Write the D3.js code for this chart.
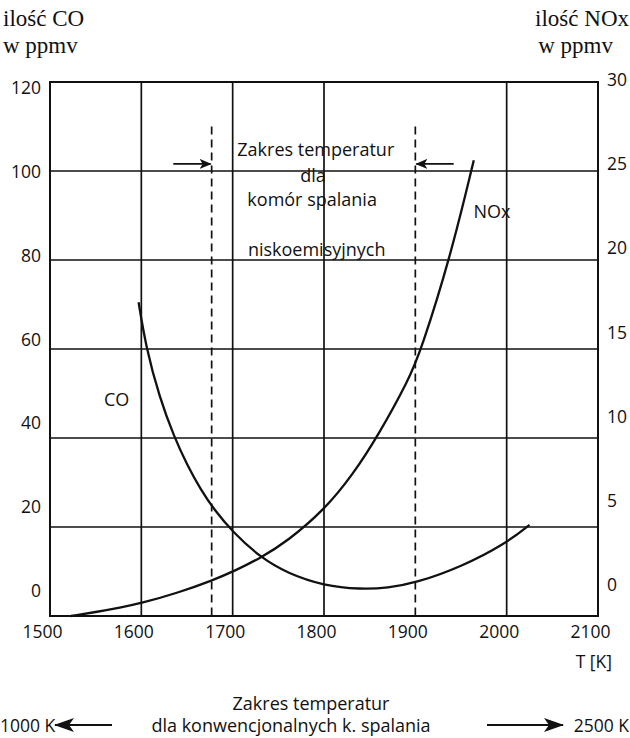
<!DOCTYPE html>
<html><head><meta charset="utf-8">
<script src="https://cdn.jsdelivr.net/npm/d3@7/dist/d3.min.js"></script>
<style>
html,body{margin:0;padding:0;background:#fff;}
svg{display:block;}
</style></head>
<body>
<svg id="chart" width="630" height="738"></svg>
<script>
// ---------- data ----------
const xTicks = [1500, 1600, 1700, 1800, 1900, 2000, 2100];
const xGrid = [1600, 1700, 1800, 2000];
const coTicks = [0, 20, 40, 60, 80, 100, 120];
const noxTicks = [0, 5, 10, 15, 20, 25, 30];
const coGrid = [20, 40, 60, 80, 100];
// CO curve: T in K, CO in ppmv
const coT =   [1597, 1605, 1620, 1636, 1650, 1665, 1680, 1700, 1730, 1760, 1800, 1840, 1870, 1900, 1950, 2000, 2025];
const coVal = [70.5, 60.5, 49.0, 40.2, 34.0, 28.4, 23.8, 18.9, 13.2, 9.6, 6.8, 6.0, 6.3, 7.4, 11.0, 16.4, 20.5];
// NOx curve: T in K, NOx in ppmv
const noxT =   [1523, 1550, 1577, 1600, 1640, 1678, 1703, 1730, 1760, 1801, 1831, 1860, 1893, 1906, 1938, 1964];
const noxVal = [0, 0.22, 0.47, 0.72, 1.3, 2.0, 2.55, 3.25, 4.2, 6.0, 7.9, 10.2, 13.3, 14.9, 20.1, 25.6];
// low-emission combustor temperature range (dashed lines)
const lowRange = [1677, 1900];
const lowRangeTop = 110;

// ---------- layout ----------
const svg = d3.select("#chart");
const x = d3.scaleLinear([1500, 2100], [50, 598]);
const yCO = d3.scaleLinear([0, 120], [616, 82]);
const yNOx = d3.scaleLinear([0, 30], [616, 82]);
// tick labels of the original sit on their own, slightly compressed scales
const yLabCO = d3.scaleLinear([0, 120], [591, 88]);
const yLabNOx = d3.scaleLinear([0, 30], [585, 80]);

const ink = "#111";
const sans = "'Open Sans', 'Noto Sans', sans-serif";
const serif = "'Liberation Serif', 'DejaVu Serif', serif";

const defs = svg.append("defs");
defs.append("marker")
  .attr("id", "ah").attr("viewBox", "0 0 12 10").attr("refX", 11).attr("refY", 5)
  .attr("markerWidth", 12).attr("markerHeight", 10).attr("markerUnits", "userSpaceOnUse")
  .attr("orient", "auto")
  .append("path").attr("d", "M0,0 L12,5 L0,10 L3,5 Z").attr("fill", ink);
defs.append("marker")
  .attr("id", "ahBig").attr("viewBox", "0 0 20 14").attr("refX", 19).attr("refY", 7)
  .attr("markerWidth", 20).attr("markerHeight", 14).attr("markerUnits", "userSpaceOnUse")
  .attr("orient", "auto")
  .append("path").attr("d", "M0,0 L20,7 L0,14 L5,7 Z").attr("fill", ink);

// gridlines
svg.append("g").selectAll("line").data(coGrid).join("line")
  .attr("x1", x(1500)).attr("x2", x(2100))
  .attr("y1", d => yCO(d)).attr("y2", d => yCO(d))
  .attr("stroke", ink).attr("stroke-width", 1.7);
svg.append("g").selectAll("line").data(xGrid).join("line")
  .attr("x1", d => x(d)).attr("x2", d => x(d))
  .attr("y1", yCO(0)).attr("y2", yCO(120))
  .attr("stroke", ink).attr("stroke-width", 1.7);

// dashed range lines
svg.append("g").selectAll("line").data(lowRange).join("line")
  .attr("x1", d => x(d)).attr("x2", d => x(d))
  .attr("y1", yCO(lowRangeTop)).attr("y2", yCO(0))
  .attr("stroke", ink).attr("stroke-width", 1.7).attr("stroke-dasharray", "8,5");

// frame
svg.append("rect")
  .attr("x", x(1500)).attr("y", yCO(120))
  .attr("width", x(2100) - x(1500)).attr("height", yCO(0) - yCO(120))
  .attr("fill", "none").attr("stroke", ink).attr("stroke-width", 2);

// curves
const coData = coT.map((t, i) => [t, coVal[i]]);
const noxData = noxT.map((t, i) => [t, noxVal[i]]);
svg.append("path").datum(coData)
  .attr("d", d3.line().x(d => x(d[0])).y(d => yCO(d[1])).curve(d3.curveBasis))
  .attr("fill", "none").attr("stroke", ink).attr("stroke-width", 2.3);
svg.append("path").datum(noxData)
  .attr("d", d3.line().x(d => x(d[0])).y(d => yNOx(d[1])).curve(d3.curveBasis))
  .attr("fill", "none").attr("stroke", ink).attr("stroke-width", 2.3);

// arrows pointing at the range
const arrowY = 101.6;
svg.append("line").attr("x1", x(1635)).attr("x2", x(lowRange[0]) - 1)
  .attr("y1", yCO(arrowY)).attr("y2", yCO(arrowY))
  .attr("stroke", ink).attr("stroke-width", 1.7).attr("marker-end", "url(#ah)");
svg.append("line").attr("x1", x(1942)).attr("x2", x(lowRange[1]) + 1)
  .attr("y1", yCO(arrowY)).attr("y2", yCO(arrowY))
  .attr("stroke", ink).attr("stroke-width", 1.7).attr("marker-end", "url(#ah)");

// axes
const fontSize = 17.5;
const axL = svg.append("g").attr("transform", `translate(${x(1500)},0)`)
  .call(d3.axisLeft(yLabCO).tickValues(coTicks).tickSize(0).tickPadding(9));
const axR = svg.append("g").attr("transform", `translate(${x(2100)},0)`)
  .call(d3.axisRight(yLabNOx).tickValues(noxTicks).tickSize(0).tickPadding(9));
const axB = svg.append("g").attr("transform", `translate(0,${yCO(0)})`)
  .call(d3.axisBottom(x).tickValues(xTicks).tickFormat(d3.format("d")).tickSize(0).tickPadding(10));
[axL, axR, axB].forEach(g => {
  g.select(".domain").remove();
  g.selectAll("text").attr("font-family", sans).attr("font-size", fontSize).attr("fill", ink);
});
axB.selectAll("text").attr("dx", -8);

function txt(xp, yp, s, opts = {}) {
  return svg.append("text").attr("x", xp).attr("y", yp)
    .attr("text-anchor", opts.anchor || "middle")
    .attr("dominant-baseline", "central")
    .attr("font-family", opts.family || sans)
    .attr("font-size", opts.size || fontSize)
    .attr("fill", ink).text(s);
}

// axis titles
txt(3, 18, "ilość CO", {anchor: "start", family: serif, size: 23});
txt(3, 45, "w ppmv", {anchor: "start", family: serif, size: 23});
txt(629, 18, "ilość NOx", {anchor: "end", family: serif, size: 23});
txt(613, 45, "w ppmv", {anchor: "end", family: serif, size: 23});
txt(612, 661, "T [K]", {anchor: "end"});

// in-chart annotations
txt(x(1791), yCO(105), "Zakres temperatur", {size: 18});
txt(x(1788), yCO(99.2), "dla", {size: 18});
txt(x(1787), yCO(93.7), "komór spalania", {size: 18});
txt(x(1792), yCO(82.5), "niskoemisyjnych", {size: 18});
txt(x(1573), yCO(48.8), "CO", {size: 18});
txt(x(1984), yNOx(22.75), "NOx", {size: 18});

// bottom note
txt(311, 703, "Zakres temperatur", {size: 18});
txt(291, 725, "dla konwencjonalnych k. spalania", {size: 18});
txt(0, 725, "1000 K", {anchor: "start", size: 17.5});
txt(629, 725, "2500 K", {anchor: "end", size: 17.5});
svg.append("line").attr("x1", 112).attr("x2", 55).attr("y1", 725).attr("y2", 725)
  .attr("stroke", ink).attr("stroke-width", 2).attr("marker-end", "url(#ahBig)");
svg.append("line").attr("x1", 487).attr("x2", 563).attr("y1", 725).attr("y2", 725)
  .attr("stroke", ink).attr("stroke-width", 2).attr("marker-end", "url(#ahBig)");
</script>
</body></html>
